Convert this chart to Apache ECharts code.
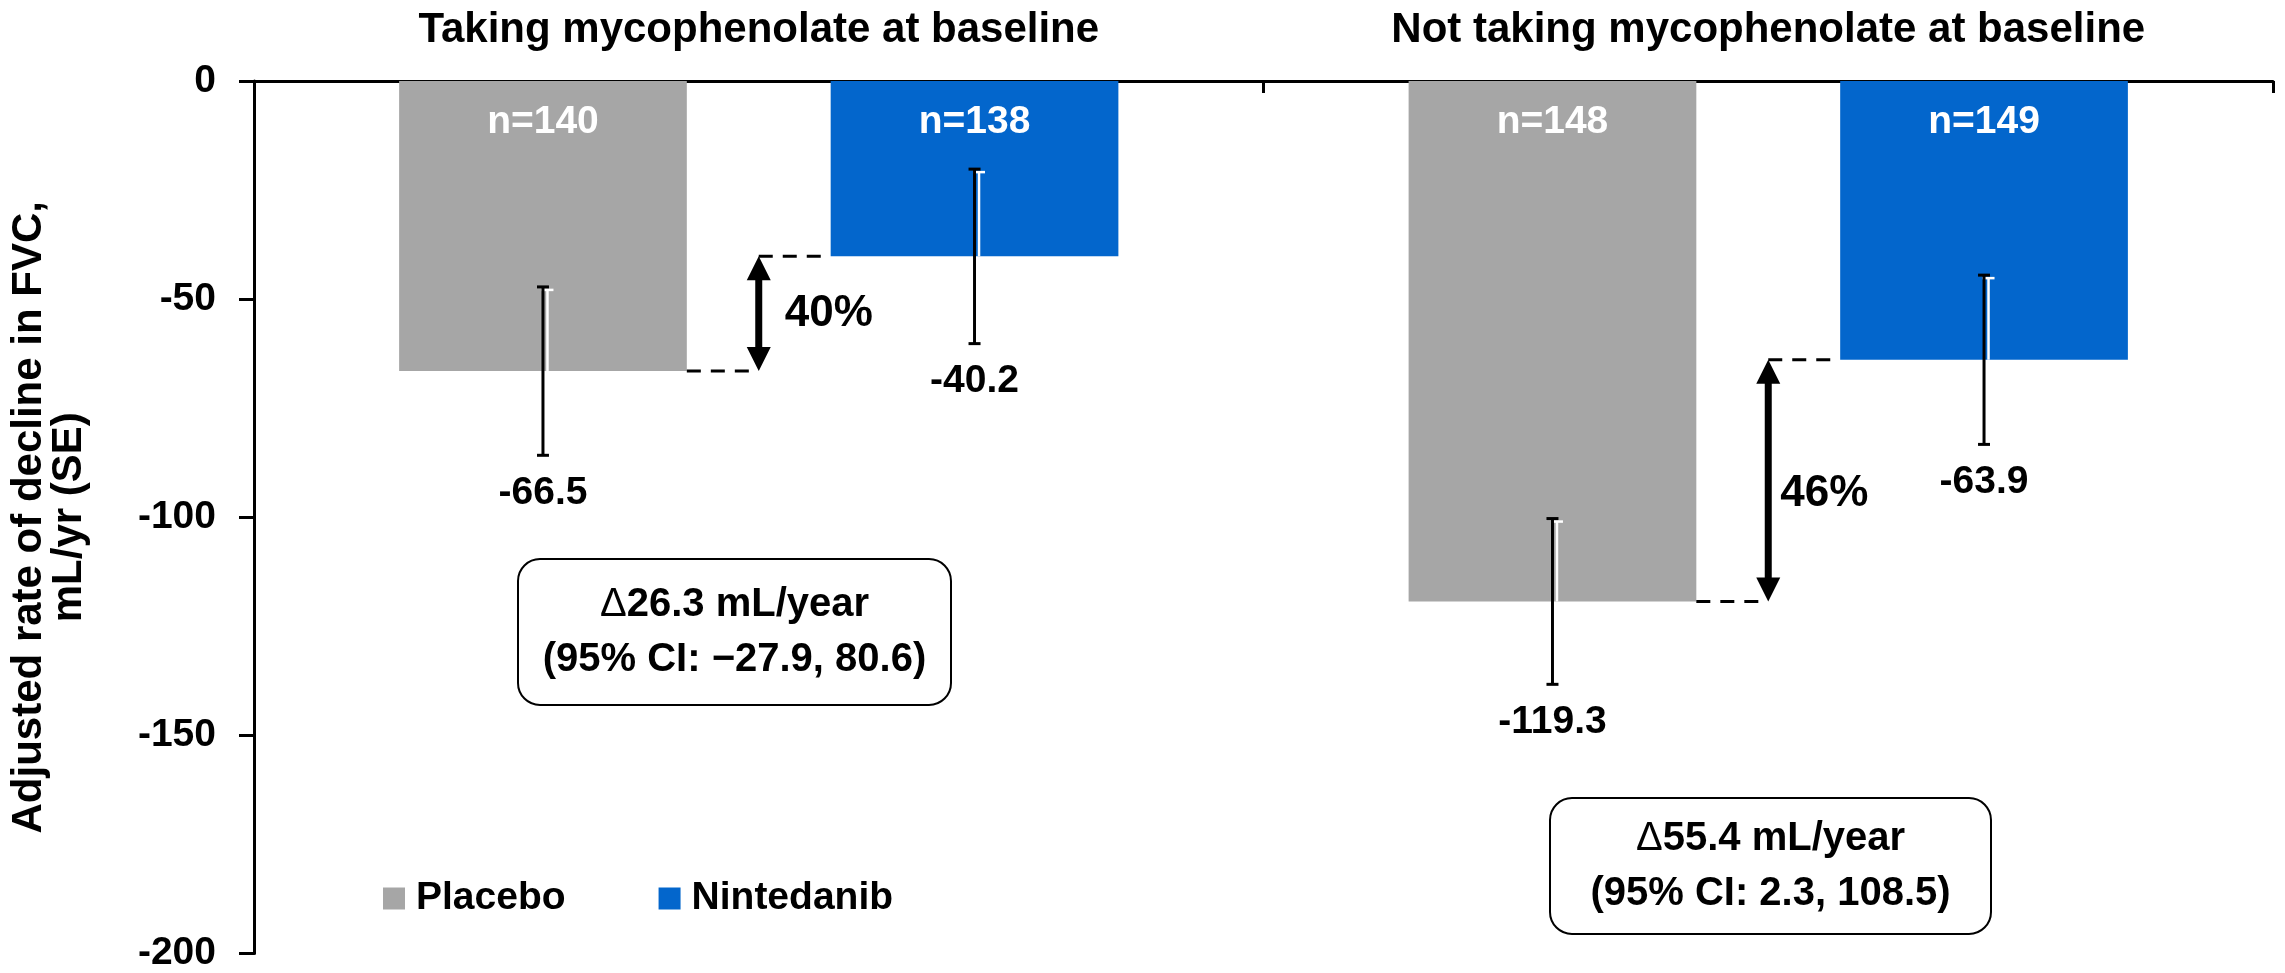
<!DOCTYPE html>
<html>
<head>
<meta charset="utf-8">
<script src="https://cdn.jsdelivr.net/npm/echarts@6/dist/echarts.min.js"></script>
<style>
  html, body { margin: 0; padding: 0; background: #ffffff; }
  #chart { width: 2285px; height: 973px; }
</style>
</head>
<body>
<div id="chart"></div>
<script>
// Adjusted annual FVC decline by baseline mycophenolate use
const categories = ['Taking mycophenolate at baseline', 'Not taking mycophenolate at baseline'];
const seriesNames = ['Placebo', 'Nintedanib'];
const placebo = [-66.5, -119.3];
const nintedanib = [-40.2, -63.9];
const placeboSE = [19.3, 19.0];
const nintedanibSE = [20.0, 19.4];
const placeboN = [140, 148];
const nintedanibN = [138, 149];
const reductionPct = ['40%', '46%'];
const diffText = ['\u039426.3 mL/year', '\u039455.4 mL/year'];
const ciText = ['(95% CI: \u221227.9, 80.6)', '(95% CI: 2.3, 108.5)'];
const yMin = -200, yMax = 0, yStep = 50;

const FONT = "'Liberation Sans', Arial, sans-serif";
const GREY = '#a6a6a6';
const BLUE = '#0366cc';
const BAR_FRAC = 0.285;   // bar width as share of a category band
const BAR_GAP = 0.5;      // gap between the two bars, as share of bar width

const chart = echarts.init(document.getElementById('chart'), null, { renderer: 'canvas' });

function barShift(band, idx) {
  const w = band * BAR_FRAC;
  return (w + w * BAR_GAP) / 2 * (idx === 0 ? -1 : 1);
}

// Error bars (mean ± SE) with the value printed beneath each whisker
function errorBarRenderer(idx) {
  return function (params, api) {
    const cat = api.value(0), val = api.value(1), se = api.value(2);
    const band = api.size([1, 0])[0];
    const c = api.coord([cat, val]);
    const x = c[0] + barShift(band, idx);
    const yTop = api.coord([cat, val + se])[1];
    const yBot = api.coord([cat, val - se])[1];
    const capHalf = 6;
    const black = { stroke: '#000', lineWidth: 3 };
    const white = { stroke: '#fff', lineWidth: 2.5 };
    return {
      type: 'group',
      children: [
        { type: 'line', shape: { x1: x + 4.5, y1: yTop + 3, x2: x + 4.5, y2: c[1] }, style: white },
        { type: 'line', shape: { x1: x - capHalf + 4.5, y1: yTop + 3, x2: x + capHalf + 4.5, y2: yTop + 3 }, style: white },
        { type: 'line', shape: { x1: x, y1: yTop, x2: x, y2: yBot }, style: black },
        { type: 'line', shape: { x1: x - capHalf, y1: yTop, x2: x + capHalf, y2: yTop }, style: black },
        { type: 'line', shape: { x1: x - capHalf, y1: yBot, x2: x + capHalf, y2: yBot }, style: black },
        {
          type: 'text',
          style: {
            x: x, y: yBot + 38, text: val.toFixed(1),
            align: 'center', verticalAlign: 'middle',
            font: 'bold 39px ' + FONT, fill: '#000'
          }
        }
      ]
    };
  };
}

// Dashed leaders and double-headed arrow showing the relative reduction
const pctDx = [26, 12];
const pctDy = [0, 13];
function reductionRenderer(params, api) {
  const cat = api.value(0), pv = api.value(1), nv = api.value(2);
  const band = api.size([1, 0])[0];
  const w = band * BAR_FRAC;
  const cx = api.coord([cat, 0])[0];
  const yP = api.coord([cat, pv])[1];
  const yN = api.coord([cat, nv])[1];
  const pRight = cx + barShift(band, 0) + w / 2;
  const nLeft = cx + barShift(band, 1) - w / 2;
  const dash = { stroke: '#000', lineWidth: 3, lineDash: [14, 10] };
  const head = 24, hw = 12;
  return {
    type: 'group',
    children: [
      { type: 'line', shape: { x1: pRight, y1: yP, x2: cx, y2: yP }, style: dash },
      { type: 'line', shape: { x1: cx, y1: yN, x2: nLeft, y2: yN }, style: dash },
      { type: 'line', shape: { x1: cx, y1: yN + head - 2, x2: cx, y2: yP - head + 2 }, style: { stroke: '#000', lineWidth: 7 } },
      { type: 'polygon', shape: { points: [[cx, yN], [cx - hw, yN + head], [cx + hw, yN + head]] }, style: { fill: '#000' } },
      { type: 'polygon', shape: { points: [[cx, yP], [cx - hw, yP - head], [cx + hw, yP - head]] }, style: { fill: '#000' } },
      {
        type: 'text',
        style: {
          x: cx + pctDx[cat], y: (yN + yP) / 2 + pctDy[cat], text: reductionPct[cat],
          align: 'left', verticalAlign: 'middle',
          font: 'bold 44px ' + FONT, fill: '#000'
        }
      }
    ]
  };
}

// Rounded call-out boxes with the between-group difference
const boxes = [
  { x: 517, y: 558, w: 433, h: 146 },
  { x: 1549, y: 797, w: 441, h: 136 }
];
const graphics = boxes.map(function (b, i) {
  return {
    type: 'group',
    left: b.x, top: b.y,
    children: [
      { type: 'rect', shape: { x: 0, y: 0, width: b.w, height: b.h, r: 22 }, style: { fill: '#fff', stroke: '#000', lineWidth: 2 } },
      {
        type: 'text',
        style: {
          x: b.w / 2, y: b.h / 2,
          text: '{d|' + diffText[i].charAt(0) + '}' + diffText[i].slice(1) + '\n' + ciText[i],
          align: 'center', verticalAlign: 'middle',
          font: 'bold 40px ' + FONT, lineHeight: 55, fill: '#000',
          rich: { d: { font: '40px ' + FONT, fill: '#000', lineHeight: 55 } }
        }
      }
    ]
  };
});

const option = {
  backgroundColor: '#ffffff',
  animation: false,
  textStyle: { fontFamily: FONT },
  grid: { left: 237, right: 12, top: 81, bottom: 16 },
  legend: {
    data: seriesNames,
    left: 378, top: 874,
    itemWidth: 22, itemHeight: 22, itemGap: 93,
    icon: 'rect',
    textStyle: { fontFamily: FONT, fontSize: 39, fontWeight: 'bold', color: '#000', padding: [0, 0, 0, 6] }
  },
  xAxis: {
    type: 'category',
    position: 'top',
    data: categories,
    axisLine: { lineStyle: { color: '#000', width: 3 } },
    axisTick: { show: true, inside: true, length: 12, lineStyle: { color: '#000', width: 3 } },
    axisLabel: { margin: 30, fontFamily: FONT, fontSize: 42, fontWeight: 'bold', color: '#000' },
    splitLine: { show: false }
  },
  yAxis: {
    type: 'value',
    min: yMin, max: yMax, interval: yStep,
    name: 'Adjusted rate of decline in FVC,\nmL/yr (SE)',
    nameLocation: 'middle',
    nameRotate: 90,
    nameGap: 165,
    nameTextStyle: { fontFamily: FONT, fontSize: 42, fontWeight: 'bold', color: '#000', lineHeight: 40 },
    axisLine: { show: true, lineStyle: { color: '#000', width: 3 } },
    axisTick: { show: true, length: 15, lineStyle: { color: '#000', width: 3 } },
    axisLabel: { margin: 38, fontFamily: FONT, fontSize: 39, fontWeight: 'bold', color: '#000' },
    splitLine: { show: false }
  },
  graphic: graphics,
  series: [
    {
      name: seriesNames[0], type: 'bar', data: placebo,
      barWidth: (BAR_FRAC * 100) + '%', barGap: (BAR_GAP * 100) + '%',
      itemStyle: { color: GREY },
      label: {
        show: true, position: 'insideTop', distance: 22,
        formatter: function (p) { return 'n=' + placeboN[p.dataIndex]; },
        color: '#fff', fontFamily: FONT, fontSize: 39, fontWeight: 'bold'
      },
      z: 2
    },
    {
      name: seriesNames[1], type: 'bar', data: nintedanib,
      barWidth: (BAR_FRAC * 100) + '%', barGap: (BAR_GAP * 100) + '%',
      itemStyle: { color: BLUE },
      label: {
        show: true, position: 'insideTop', distance: 22,
        formatter: function (p) { return 'n=' + nintedanibN[p.dataIndex]; },
        color: '#fff', fontFamily: FONT, fontSize: 39, fontWeight: 'bold'
      },
      z: 2
    },
    {
      type: 'custom', name: 'placeboSE', silent: true, z: 5,
      renderItem: errorBarRenderer(0),
      data: placebo.map(function (v, i) { return [i, v, placeboSE[i]]; })
    },
    {
      type: 'custom', name: 'nintedanibSE', silent: true, z: 5,
      renderItem: errorBarRenderer(1),
      data: nintedanib.map(function (v, i) { return [i, v, nintedanibSE[i]]; })
    },
    {
      type: 'custom', name: 'reduction', silent: true, z: 6,
      renderItem: reductionRenderer,
      data: placebo.map(function (v, i) { return [i, v, nintedanib[i]]; })
    }
  ]
};

chart.setOption(option);
</script>
</body>
</html>
